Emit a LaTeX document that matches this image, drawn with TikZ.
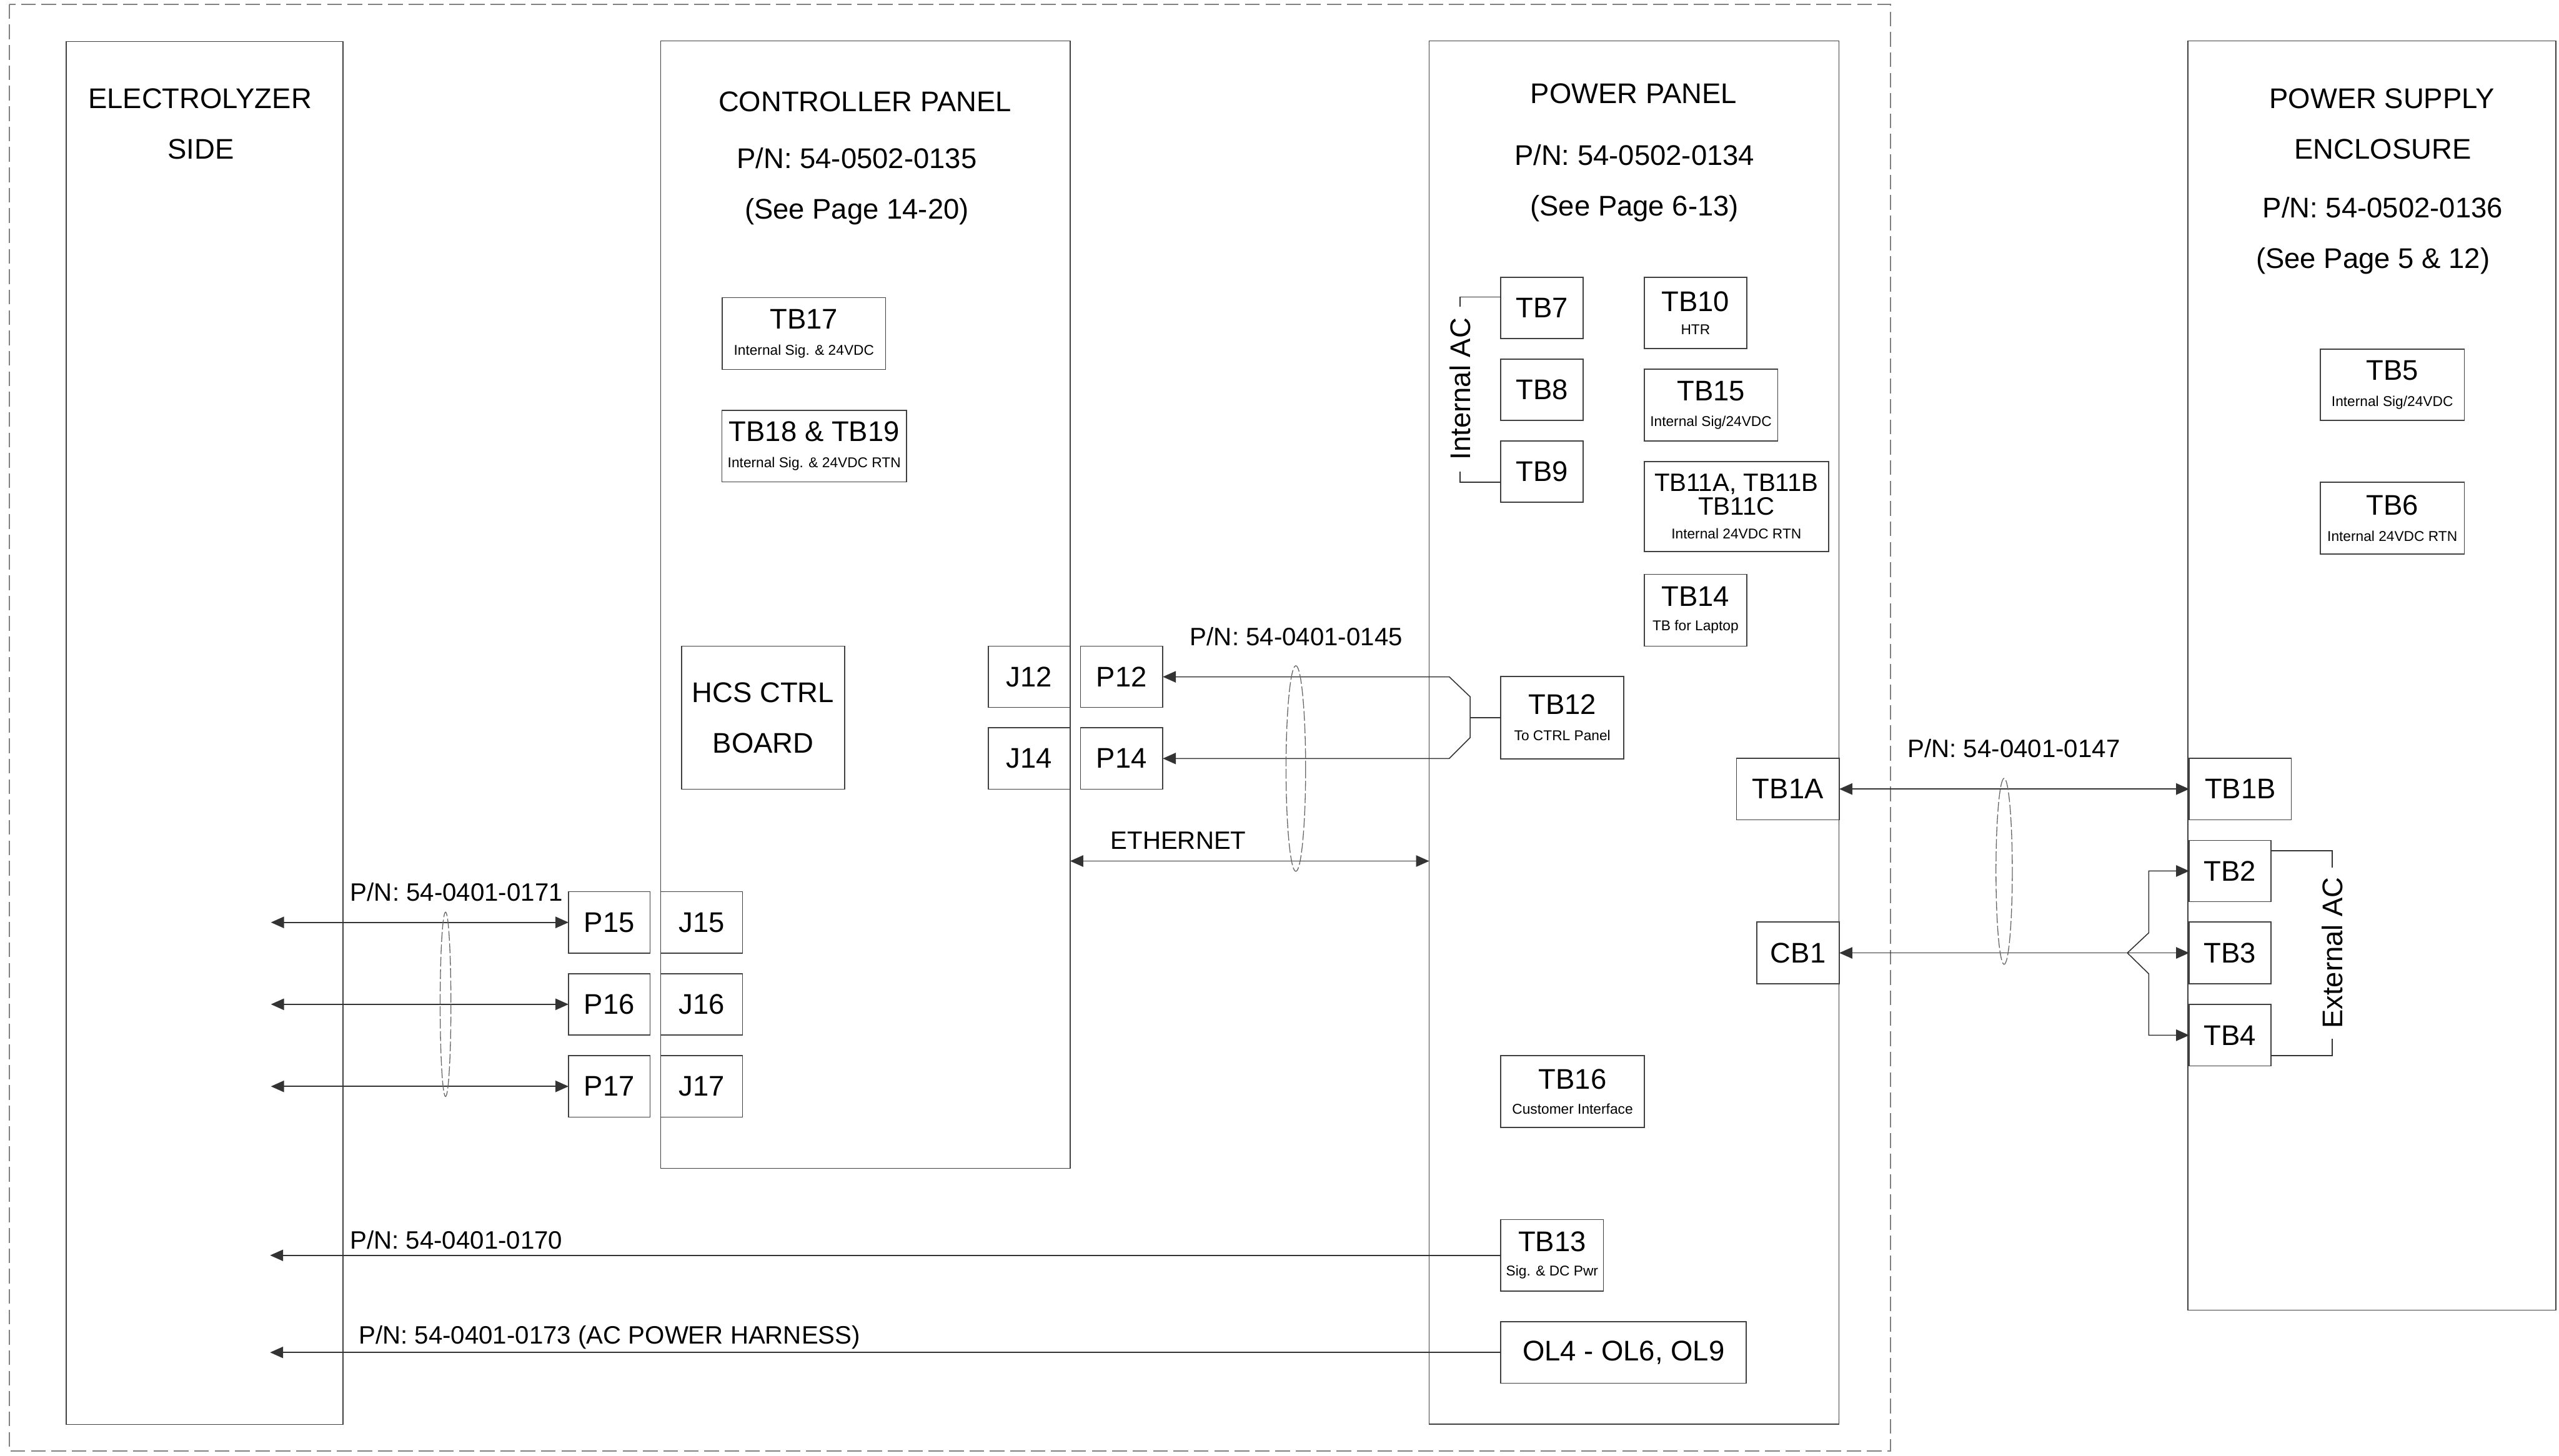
\documentclass[tikz,border=0pt]{standalone}
\usepackage{fontspec}
\setmainfont{Liberation Sans}
\usetikzlibrary{arrows.meta}
\newcommand{\tbnote}{\fontsize{8.7}{10}\selectfont}
\newcommand{\tbmid}{\fontsize{15.4}{18}\selectfont}

\begin{document}
\begin{tikzpicture}[x=1pt,y=-1pt,
  panel/.style={draw=black!75,line width=0.6pt,inner sep=0pt,outer sep=0pt},
  tbox/.style={panel,align=center,font=\fontsize{17.4}{20}\selectfont},
  head/.style={font=\fontsize{17.4}{20}\selectfont,text height=12.5pt,text depth=0pt},
  pnum/.style={font=\fontsize{15.4}{18}\selectfont,text height=11pt,text depth=0pt},
  wire/.style={draw=black!80,line width=0.6pt},
  bundle/.style={draw=black!60,line width=0.5pt,dash pattern=on 6pt off 1.6pt},
  >={Triangle[length=8pt,width=7pt]}
]
  \useasboundingbox (0,0) rectangle (1568,892);
  \draw[black!50,line width=0.8pt,dash pattern=on 9pt off 3.5pt] (5.6,2.6) rectangle (1158.4,889.2);

  % enclosures
  \node[panel,minimum width=169.7pt,minimum height=847.6pt] (elec) at (125.35,449.2) {};
  \node[panel,minimum width=250.9pt,minimum height=691pt] (ctrl) at (530.25,370.5) {};
  \node[panel,minimum width=251.1pt,minimum height=847.8pt] (pwr) at (1001.25,448.9) {};
  \node[panel,minimum width=225.5pt,minimum height=778pt] (pse) at (1453.25,414) {};

  \node[head] (elecA) at (122.5,60) {ELECTROLYZER};
  \node[head] (elecB) at (123,91) {SIDE};
  \node[head] (ctrlA) at (530,62) {CONTROLLER PANEL};
  \node[head] (ctrlB) at (525,97) {P/N: 54-0502-0135};
  \node[head] (ctrlC) at (525,128) {(See Page 14-20)};
  \node[head] (pwrA) at (1001,57) {POWER PANEL};
  \node[head] (pwrB) at (1001.5,95) {P/N: 54-0502-0134};
  \node[head] (pwrC) at (1001.5,126) {(See Page 6-13)};
  \node[head] (pseA) at (1459.5,60) {POWER SUPPLY};
  \node[head] (pseB) at (1460,91) {ENCLOSURE};
  \node[head] (pseC) at (1460,127) {P/N: 54-0502-0136};
  \node[head] (pseD) at (1454,158) {(See Page 5 \& 12)};

  % controller panel
  \node[tbox,minimum width=100pt,minimum height=44pt] (tb17) at (492.6,204.35) {TB17\\[-4pt]\tbnote Internal Sig. \& 24VDC};
  \node[tbox,minimum width=113pt,minimum height=44pt] (tb18) at (498.9,273.4) {TB18 \& TB19\\[-4pt]\tbnote Internal Sig. \& 24VDC RTN};
  \node[tbox,minimum width=100pt,minimum height=87.7pt] (hcs) at (467.6,439.8) {HCS CTRL\\[11pt]BOARD};
  \node[tbox,minimum width=50pt,minimum height=37.6pt] (j12) at (630.7,414.8) {J12};
  \node[tbox,minimum width=50.5pt,minimum height=37.6pt] (p12) at (687.25,414.8) {P12};
  \node[tbox,minimum width=50pt,minimum height=37.7pt] (j14) at (630.7,464.85) {J14};
  \node[tbox,minimum width=50.5pt,minimum height=37.7pt] (p14) at (687.25,464.85) {P14};
  \node[tbox,minimum width=50pt,minimum height=37.6pt] (p15) at (373.35,565.3) {P15};
  \node[tbox,minimum width=50.2pt,minimum height=37.6pt] (j15) at (429.9,565.3) {J15};
  \node[tbox,minimum width=50pt,minimum height=37.6pt] (p16) at (373.35,615.5) {P16};
  \node[tbox,minimum width=50.2pt,minimum height=37.6pt] (j16) at (429.9,615.5) {J16};
  \node[tbox,minimum width=50pt,minimum height=37.6pt] (p17) at (373.35,665.8) {P17};
  \node[tbox,minimum width=50.2pt,minimum height=37.6pt] (j17) at (429.9,665.8) {J17};

  % power panel
  \node[tbox,minimum width=50.4pt,minimum height=37.6pt] (tb7) at (944.8,188.7) {TB7};
  \node[tbox,minimum width=50.4pt,minimum height=37.6pt] (tb8) at (944.8,238.85) {TB8};
  \node[tbox,minimum width=50.4pt,minimum height=37.6pt] (tb9) at (944.8,289) {TB9};
  \node[tbox,minimum width=62.8pt,minimum height=43.8pt] (tb10) at (1038.9,191.8) {TB10\\[-6pt]\tbnote HTR};
  \node[tbox,minimum width=81.7pt,minimum height=43.9pt] (tb15) at (1048.35,248.25) {TB15\\[-4.5pt]\tbnote Internal Sig/24VDC};
  \node[tbox,minimum width=112.9pt,minimum height=55.2pt] (tb11) at (1063.95,310.4) {\tbmid TB11A, TB11B\\[-5.5pt]\tbmid TB11C\\[-5.7pt]\tbnote Internal 24VDC RTN};
  \node[tbox,minimum width=62.8pt,minimum height=44pt] (tb14) at (1038.9,374) {TB14\\[-5pt]\tbnote TB for Laptop};
  \node[tbox,minimum width=75.4pt,minimum height=50.4pt] (tb12) at (957.3,439.8) {TB12\\[-4pt]\tbnote To CTRL Panel};
  \node[tbox,minimum width=63pt,minimum height=37.7pt] (tb1a) at (1095.5,483.55) {TB1A};
  \node[tbox,minimum width=50.5pt,minimum height=38pt] (cb1) at (1101.75,584) {CB1};
  \node[tbox,minimum width=87.9pt,minimum height=44pt] (tb16) at (963.55,669) {TB16\\[-4.5pt]\tbnote Customer Interface};
  \node[tbox,minimum width=62.9pt,minimum height=43.7pt] (tb13) at (951.05,769.35) {TB13\\[-5pt]\tbnote Sig. \& DC Pwr};
  \node[tbox,minimum width=150.4pt,minimum height=37.7pt] (ol) at (994.8,828.85) {OL4 - OL6, OL9};

  % power supply enclosure
  \node[tbox,minimum width=88.1pt,minimum height=43.8pt] (tb5) at (1465.85,235.8) {TB5\\[-4pt]\tbnote Internal Sig/24VDC};
  \node[tbox,minimum width=88.1pt,minimum height=44pt] (tb6) at (1465.85,317.5) {TB6\\[-4pt]\tbnote Internal 24VDC RTN};
  \node[tbox,minimum width=62.6pt,minimum height=37.7pt] (tb1b) at (1372.7,483.55) {TB1B};
  \node[tbox,minimum width=50.1pt,minimum height=37.6pt] (tb2) at (1366.45,533.8) {TB2};
  \node[tbox,minimum width=50.1pt,minimum height=38pt] (tb3) at (1366.45,584) {TB3};
  \node[tbox,minimum width=50.1pt,minimum height=37.7pt] (tb4) at (1366.45,634.45) {TB4};

  % harness labels
  \node[pnum] (pn145) at (794.3,390) {P/N: 54-0401-0145};
  \node[pnum] (eth) at (722,515) {ETHERNET};
  \node[pnum] (pn147) at (1234,458.7) {P/N: 54-0401-0147};
  \node[pnum] (pn171) at (279.8,546.6) {P/N: 54-0401-0171};
  \node[pnum] (pn170) at (279.6,760) {P/N: 54-0401-0170};
  \node[pnum] (pn173) at (373.5,818) {P/N: 54-0401-0173 (AC POWER HARNESS)};

  \coordinate (e15) at (166,565.3);
  \coordinate (e16) at (166,615.5);
  \coordinate (e17) at (166,665.8);
  \coordinate (e13) at (165.5,769.35);
  \coordinate (e173) at (165.5,828.85);
  \coordinate (fk12) at (900.8,439.8);
  \coordinate (fk3) at (1303.5,584);

  \draw[wire,<->] (e15) -- (p15.west);
  \draw[wire,<->] (e16) -- (p16.west);
  \draw[wire,<->] (e17) -- (p17.west);
  \draw[bundle] (273,615.5) ellipse [x radius=3.3, y radius=56.5];
  \draw[wire,->] (tb13.west) -- (e13);
  \draw[wire,->] (ol.west) -- (e173);

  \draw[wire] (tb12.west) -- (fk12);
  \draw[wire,->] (fk12) -- (900.8,427) -- (888,414.8) -- (p12.east);
  \draw[wire,->] (fk12) -- (900.8,452) -- (888,464.85) -- (p14.east);
  \draw[wire,<->] (ctrl.east |- 0,527.7) -- (pwr.west |- 0,527.7);
  \draw[bundle] (794,471) ellipse [x radius=6, y radius=63];

  \draw[wire,<->] (tb1a.east) -- (tb1b.west);
  \draw[wire,<->] (cb1.east) -- (tb3.west);
  \draw[wire,->] (fk3) -- (1316.6,571.7) |- (tb2.west);
  \draw[wire,->] (fk3) -- (1316.6,596.8) |- (tb4.west);
  \draw[bundle] (1228,534) ellipse [x radius=5, y radius=57];

  % AC brackets
  \draw[wire] ([yshift=6.7pt]tb7.west) -| (894.6,238.4) |- ([yshift=-6.5pt]tb9.west);
  \node[head,rotate=90,fill=white,inner xsep=7pt,inner ysep=1pt] (intac) at (894.6,238.4) {Internal AC};
  \draw[wire] ([yshift=12.4pt]tb2.east) -| (1429,584) |- ([yshift=-12.5pt]tb4.east);
  \node[head,rotate=90,fill=white,inner xsep=6pt,inner ysep=1pt] (extac) at (1429,584) {External AC};
\end{tikzpicture}
\end{document}
